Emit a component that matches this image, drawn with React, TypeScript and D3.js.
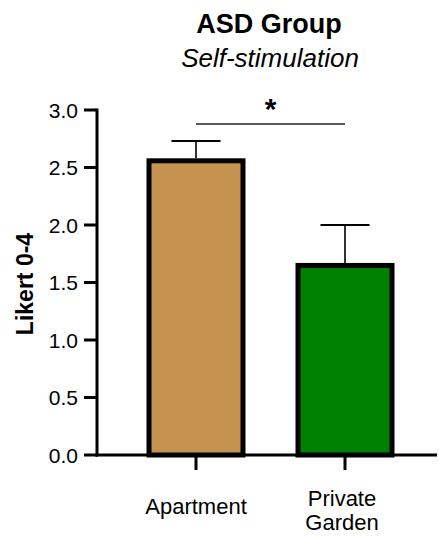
import React from "react";
import * as d3 from "d3";

const categories = ["Apartment", "Private Garden"];
const categoryLines = [["Apartment"], ["Private", "Garden"]];
const means = [2.58, 1.67];
const sems = [0.15, 0.33];
const yTicks = [0, 0.5, 1.0, 1.5, 2.0, 2.5, 3.0];
const barColors = ["#C4914F", "#007F00"];

const W = 439;
const H = 536;
const FONT = "Liberation Sans, Arial, Helvetica, sans-serif";

export default function App() {
  const y = d3.scaleLinear().domain([0, 3]).range([455, 110]);
  const x = d3.scaleBand().domain(categories).range([121.5, 419.5]).padding(0);
  const barW = 94;
  const axisX = 97;
  const capW = 49;

  return (
    <svg width={W} height={H} style={{ position: "absolute", left: 0, top: 0 }} fontFamily={FONT}>
      <rect width={W} height={H} fill="#fff" />
      {/* Titles */}
      <text x={269} y={33} textAnchor="middle" fontSize={27} fontWeight="bold">ASD Group</text>
      <text x={270} y={67} textAnchor="middle" fontSize={26} fontStyle="italic">Self-stimulation</text>

      {/* Y label */}
      <text transform={`translate(33,284) rotate(-90)`} textAnchor="middle" fontSize={23} fontWeight="bold">Likert 0-4</text>

      {/* Bars */}
      {categories.map((c, i) => {
        const cx = (x(c) as number) + x.bandwidth() / 2;
        const top = y(means[i]);
        const errTop = y(means[i] + sems[i]);
        return (
          <g key={c}>
            <line x1={cx} x2={cx} y1={top} y2={errTop} stroke="#000" strokeWidth={1.6} />
            <line x1={cx - capW / 2} x2={cx + capW / 2} y1={errTop} y2={errTop} stroke="#000" strokeWidth={2} />
            <rect x={cx - barW / 2} y={top + 2.5} width={barW} height={y(0) - top - 2.5} fill={barColors[i]} stroke="#000" strokeWidth={5} />
          </g>
        );
      })}

      {/* Y axis */}
      <line x1={axisX} x2={axisX} y1={y(3) - 1.5} y2={y(0) + 1.5} stroke="#000" strokeWidth={3} />
      {yTicks.map((t) => (
        <g key={t}>
          <line x1={axisX - 13} x2={axisX} y1={y(t)} y2={y(t)} stroke="#000" strokeWidth={3} />
          <text x={78} y={y(t)} dy="0.36em" textAnchor="end" fontSize={21}>{t.toFixed(1)}</text>
        </g>
      ))}

      {/* X axis */}
      <line x1={axisX - 1.5} x2={437} y1={y(0)} y2={y(0)} stroke="#000" strokeWidth={3} />
      {categories.map((c, i) => {
        const cx = (x(c) as number) + x.bandwidth() / 2;
        const lines = categoryLines[i];
        const base = lines.length === 1 ? 514 : 506;
        const lx = lines.length === 1 ? cx : cx - 3;
        return (
          <g key={c}>
            <line x1={cx} x2={cx} y1={y(0)} y2={y(0) + 15} stroke="#000" strokeWidth={3} />
            {lines.map((l, j) => (
              <text key={l} x={lx} y={base + j * 24} textAnchor="middle" fontSize={22}>{l}</text>
            ))}
          </g>
        );
      })}

      {/* Significance */}
      {(() => {
        const x1 = (x(categories[0]) as number) + x.bandwidth() / 2;
        const x2 = (x(categories[1]) as number) + x.bandwidth() / 2;
        return (
          <g>
            <line x1={x1} x2={x2} y1={124} y2={124} stroke="#222" strokeWidth={1.5} />
            <text x={(x1 + x2) / 2} y={119} textAnchor="middle" fontSize={30} fontWeight="bold">*</text>
          </g>
        );
      })()}
    </svg>
  );
}
